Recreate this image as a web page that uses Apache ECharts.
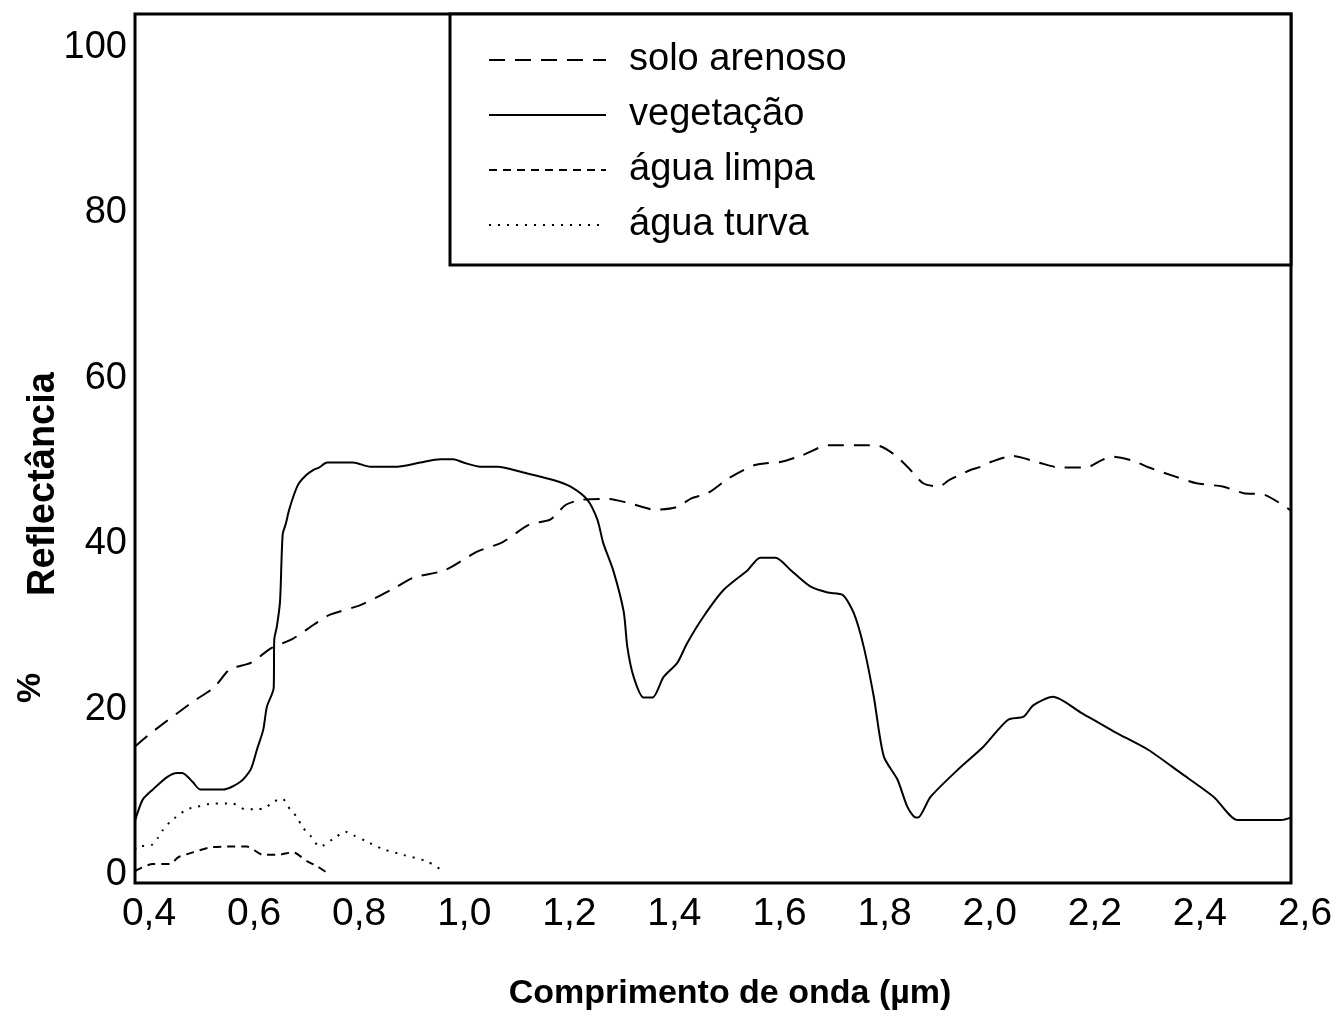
<!DOCTYPE html>
<html>
<head>
<meta charset="utf-8">
<script src="https://cdn.jsdelivr.net/npm/echarts@6/dist/echarts.min.js"></script>
<style>
html,body{margin:0;padding:0;background:#fff;}
#chart{width:1336px;height:1021px;}
</style>
</head>
<body>
<div id="chart"></div>
<script>
// ---- data ----
var seriesNames = ['solo arenoso', 'vegetação', 'água limpa', 'água turva'];
var xTicks = [0.4, 0.6, 0.8, 1.0, 1.2, 1.4, 1.6, 1.8, 2.0, 2.2, 2.4, 2.6];
var yTicks = [0, 20, 40, 60, 80, 100];

var soloArenoso = [[0.40,15.5],[0.43,17.1],[0.51,20.9],[0.55,22.6],[0.58,24.8],[0.62,25.6],[0.66,27.4],[0.70,28.5],[0.74,30.2],[0.77,31.4],[0.83,32.6],[0.89,34.5],[0.93,35.9],[0.99,36.8],[1.05,39.0],[1.10,40.2],[1.15,42.3],[1.19,42.9],[1.22,44.7],[1.25,45.3],[1.30,45.4],[1.34,44.9],[1.39,44.1],[1.43,44.4],[1.46,45.5],[1.49,46.1],[1.53,47.9],[1.58,49.5],[1.63,49.9],[1.67,50.7],[1.72,51.9],[1.77,51.9],[1.81,51.9],[1.84,51.0],[1.87,49.3],[1.90,47.3],[1.93,46.9],[1.95,47.7],[1.99,48.9],[2.01,49.3],[2.03,49.9],[2.07,50.6],[2.12,49.8],[2.16,49.2],[2.21,49.2],[2.24,50.1],[2.26,50.5],[2.30,50.0],[2.33,49.2],[2.38,48.1],[2.42,47.3],[2.47,46.9],[2.51,46.1],[2.55,45.9],[2.60,44.0]];

var vegetacao = [[0.400,6.5],[0.405,7.5],[0.415,9.1],[0.434,10.3],[0.461,11.8],[0.480,12.3],[0.490,12.3],[0.510,11.2],[0.524,10.3],[0.568,10.3],[0.600,11.2],[0.620,12.7],[0.632,15.1],[0.644,17.5],[0.651,20.3],[0.664,22.6],[0.665,28.4],[0.670,30.0],[0.676,33.0],[0.681,41.1],[0.687,42.4],[0.693,44.0],[0.703,46.0],[0.712,47.3],[0.726,48.3],[0.739,48.9],[0.750,49.2],[0.766,49.8],[0.815,49.8],[0.848,49.3],[0.899,49.3],[0.943,49.8],[0.981,50.2],[1.006,50.2],[1.025,49.8],[1.057,49.3],[1.090,49.3],[1.139,48.6],[1.196,47.7],[1.229,46.9],[1.261,45.3],[1.280,42.9],[1.291,40.1],[1.310,36.8],[1.330,31.8],[1.337,27.5],[1.349,23.9],[1.368,21.4],[1.385,21.4],[1.406,23.9],[1.432,25.6],[1.451,28.0],[1.482,31.2],[1.520,34.4],[1.566,36.8],[1.590,38.3],[1.619,38.3],[1.648,36.8],[1.686,34.8],[1.718,34.1],[1.747,33.8],[1.768,31.6],[1.787,27.5],[1.806,21.5],[1.825,14.3],[1.851,11.5],[1.870,8.2],[1.886,6.9],[1.890,6.9],[1.914,9.4],[1.966,12.7],[2.015,15.5],[2.061,18.7],[2.091,19.1],[2.110,20.5],[2.147,21.5],[2.200,19.6],[2.263,17.3],[2.328,15.1],[2.390,12.3],[2.453,9.4],[2.499,6.6],[2.581,6.6],[2.600,6.9]];

var aguaLimpa = [[0.400,0.4],[0.404,0.6],[0.434,1.3],[0.467,1.3],[0.482,2.1],[0.510,2.7],[0.543,3.3],[0.575,3.4],[0.613,3.4],[0.644,2.4],[0.670,2.4],[0.701,2.7],[0.728,1.6],[0.747,1.0],[0.771,0.0]];

var aguaTurva = [[0.400,3.0],[0.404,3.4],[0.432,3.6],[0.444,4.5],[0.453,5.4],[0.467,6.4],[0.499,7.9],[0.518,8.2],[0.547,8.6],[0.585,8.6],[0.610,7.9],[0.629,7.9],[0.648,8.1],[0.663,8.8],[0.680,9.2],[0.695,7.9],[0.709,6.9],[0.718,5.8],[0.733,4.8],[0.752,3.4],[0.781,4.5],[0.800,5.2],[0.815,4.8],[0.838,4.1],[0.872,3.1],[0.910,2.4],[0.956,1.6],[0.987,0.4]];

var FONT = '"Liberation Sans", Arial, Helvetica, sans-serif';

var chart = echarts.init(document.getElementById('chart'), null, {renderer: 'canvas'});

function lineSeries(name, data, lineStyle) {
  return {
    name: name, type: 'line', data: data, symbol: 'none', smooth: 0.25,
    lineStyle: lineStyle, itemStyle: {color: '#000'}, z: 3
  };
}

var option = {
  animation: false,
  backgroundColor: '#fff',
  grid: {
    left: 135, top: 14, right: 45, bottom: 138,
    show: true, borderColor: '#000', borderWidth: 3, backgroundColor: 'transparent'
  },
  xAxis: {
    type: 'value', min: 0.4, max: 2.6, interval: 0.2,
    axisLine: {show: false}, axisTick: {show: false}, splitLine: {show: false},
    axisLabel: {
      customValues: xTicks,
      formatter: function (v) { return v.toFixed(1).replace('.', ','); },
      color: '#000', fontFamily: FONT, fontSize: 39, margin: 12,
      padding: [0, 0, 0, 28]
    }
  },
  yAxis: {
    type: 'value', min: -1, max: 104,
    axisLine: {show: false}, axisTick: {show: false}, splitLine: {show: false},
    axisLabel: {
      customValues: yTicks,
      color: '#000', fontFamily: FONT, fontSize: 38, margin: 8
    }
  },
  legend: {
    orient: 'vertical', left: 483, top: 36,
    itemWidth: 117, itemHeight: 20, itemGap: 17,
    selectedMode: false,
    data: seriesNames,
    itemStyle: {opacity: 0},
    textStyle: {color: '#000', fontFamily: FONT, fontSize: 38, padding: [0, 0, 0, 18]}
  },
  graphic: [
    {
      type: 'rect', z: 1, silent: true,
      shape: {x: 450, y: 14, width: 841, height: 251},
      style: {fill: '#fff', stroke: '#000', lineWidth: 3}
    },
    {
      type: 'text', x: 44, y: 484, rotation: Math.PI / 2, silent: true,
      style: {text: 'Reflectância', fill: '#000', font: 'bold 38px ' + FONT, textAlign: 'center', textVerticalAlign: 'middle'}
    },
    {
      type: 'text', x: 31, y: 688, rotation: Math.PI / 2, silent: true,
      style: {text: '%', fill: '#000', font: 'bold 34px ' + FONT, textAlign: 'center', textVerticalAlign: 'middle'}
    },
    {
      type: 'text', x: 730, y: 994, silent: true,
      style: {text: 'Comprimento de onda (\u00b5m)', fill: '#000', font: 'bold 34px ' + FONT, textAlign: 'center', textVerticalAlign: 'middle'}
    }
  ],
  series: [
    lineSeries(seriesNames[0], soloArenoso, {color: '#000', width: 2, type: [16, 10]}),
    lineSeries(seriesNames[1], vegetacao, {color: '#000', width: 2, type: 'solid'}),
    lineSeries(seriesNames[2], aguaLimpa, {color: '#000', width: 2, type: [8, 6]}),
    lineSeries(seriesNames[3], aguaTurva, {color: '#000', width: 2, type: [2, 7]})
  ]
};
chart.setOption(option);
</script>
</body>
</html>
